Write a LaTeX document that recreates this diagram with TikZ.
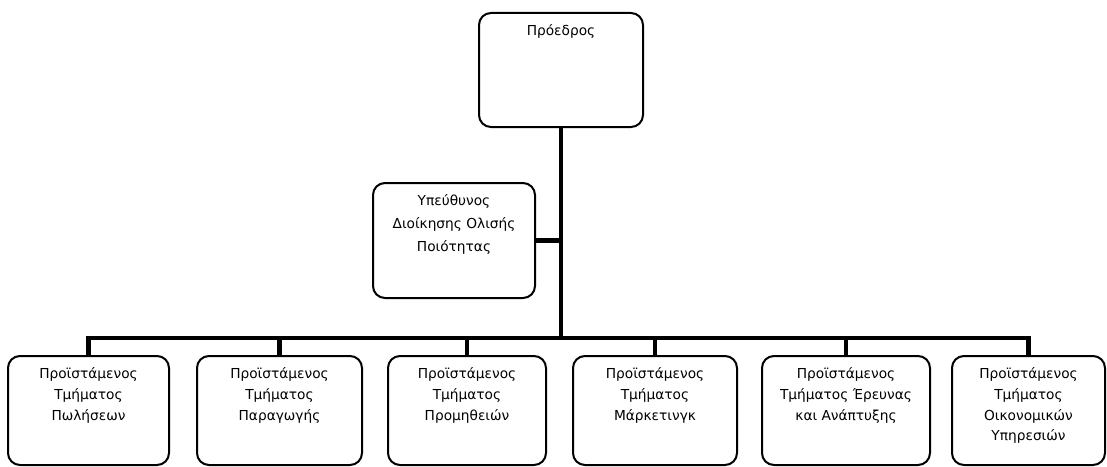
\documentclass[tikz,border=0pt]{standalone}
\usepackage{fontspec}
\setmainfont{DejaVu Sans}
\usepackage{tikz}

% text sits at the top of each box
\newcommand{\cardtext}[3]{\parbox[c][#1][t]{#2}{\centering\rule{0pt}{17pt}#3}}

\tikzset{
	card/.style={draw=black, line width=1.5pt, rounded corners=9pt, inner sep=0pt,
		font=\fontsize{10.3}{15.5}\selectfont},
	link/.style={draw=black, line width=3.5pt},
}

\begin{document}
\begin{tikzpicture}[x=0.75pt, y=-0.75pt]
	\useasboundingbox (0,0) rectangle (1107,467);

	\node[card] (pres) at (561, 70)     {\cardtext{85.5pt}{123pt}{Πρόεδρος}};
	\node[card, font=\fontsize{10.3}{17}\selectfont] (qual) at (454, 240.5)  {\cardtext{86.25pt}{121.5pt}{Υπεύθυνος\\Διοίκησης Ολισής\\Ποιότητας}};

	\node[card] (sales) at (88.5, 410.5)  {\cardtext{81.75pt}{120.75pt}{Προϊστάμενος\\Τμήματος\\Πωλήσεων}};
	\node[card] (prod)  at (279.5, 410.5) {\cardtext{81.75pt}{123.75pt}{Προϊστάμενος\\Τμήματος\\Παραγωγής}};
	\node[card] (supp)  at (467, 410.5)   {\cardtext{81.75pt}{118.5pt}{Προϊστάμενος\\Τμήματος\\Προμηθειών}};
	\node[card] (mark)  at (655, 410.5)   {\cardtext{81.75pt}{123pt}{Προϊστάμενος\\Τμήματος\\Μάρκετινγκ}};
	\node[card] (rnd)   at (846, 410.5)   {\cardtext{81.75pt}{126pt}{Προϊστάμενος\\Τμήματος Έρευνας\\και Ανάπτυξης}};
	\node[card] (fin)   at (1028.5, 410.5){\cardtext{81.75pt}{114.75pt}{Προϊστάμενος\\Τμήματος\\Οικονομικών\\Υπηρεσιών}};

	\coordinate (hub) at (561, 338);

	\draw[link] (pres.south) -- (hub);
	\draw[link] (qual.east) -- (qual.east -| hub);
	\draw[link] (sales.north) |- (hub) -| (fin.north);
	\draw[link] (prod.north) -- (prod.north |- hub);
	\draw[link] (supp.north) -- (supp.north |- hub);
	\draw[link] (mark.north) -- (mark.north |- hub);
	\draw[link] (rnd.north) -- (rnd.north |- hub);

\end{tikzpicture}
\end{document}
